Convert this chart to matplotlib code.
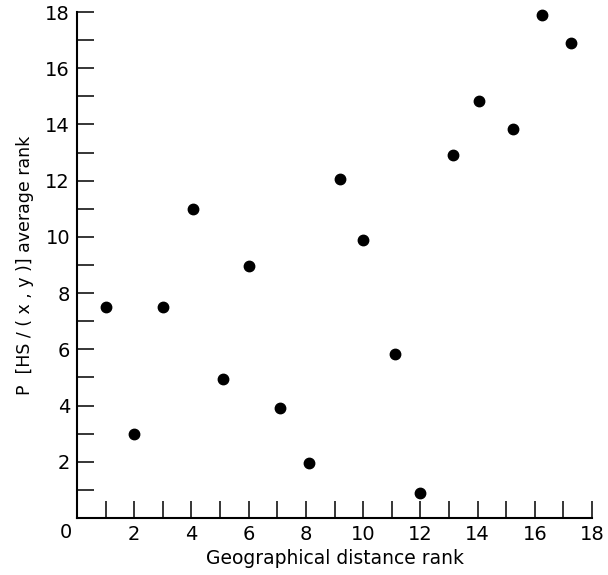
import matplotlib
matplotlib.use("Agg")
import matplotlib.pyplot as plt
import numpy as np

# Data
geo_rank = [1.0, 2.0, 3.0, 4.05, 5.1, 6.0, 7.1, 8.1, 9.2, 10.0, 11.1, 12.0,
            13.15, 14.05, 15.25, 16.25, 17.25]
avg_rank = [7.5, 3.0, 7.5, 11.0, 4.95, 8.95, 3.9, 1.95, 12.05, 9.9, 5.85, 0.9,
            12.9, 14.85, 13.85, 17.9, 16.9]
major_ticks = [2, 4, 6, 8, 10, 12, 14, 16, 18]
minor_ticks = [1, 3, 5, 7, 9, 11, 13, 15, 17]

plt.rcParams['font.family'] = ['DejaVu Sans']

fig = plt.figure(figsize=(6.08, 5.75), dpi=100)
ax = fig.add_axes([77/608, 57/575, (592-77)/608, (518-12)/575])

ax.plot(geo_rank, avg_rank, 'o', color='black', markersize=7.5, clip_on=False)

ax.set_xlim(0, 18)
ax.set_ylim(0, 18)
ax.spines['top'].set_visible(False)
ax.spines['right'].set_visible(False)
for s in ('left', 'bottom'):
    ax.spines[s].set_linewidth(1.5)

ax.set_xticks(major_ticks)
ax.set_yticks(major_ticks)
ax.set_xticks(minor_ticks, minor=True)
ax.set_yticks(minor_ticks, minor=True)
ax.set_xticklabels([str(t) for t in major_ticks])
ax.set_yticklabels([str(t) for t in major_ticks])
ax.tick_params(which='both', direction='in', length=12, width=1.1, color='black')
ax.tick_params(which='major', labelsize=14, pad=5)

ax.text(-0.4, -0.5, '0', fontsize=14, ha='center', va='center')

ax.set_xlabel('Geographical distance rank', fontsize=13.5, labelpad=4)
ax.set_ylabel('P  [HS / ( x , y )] average rank', fontsize=12.5, labelpad=8)

fig.savefig('out.png', dpi=100)
